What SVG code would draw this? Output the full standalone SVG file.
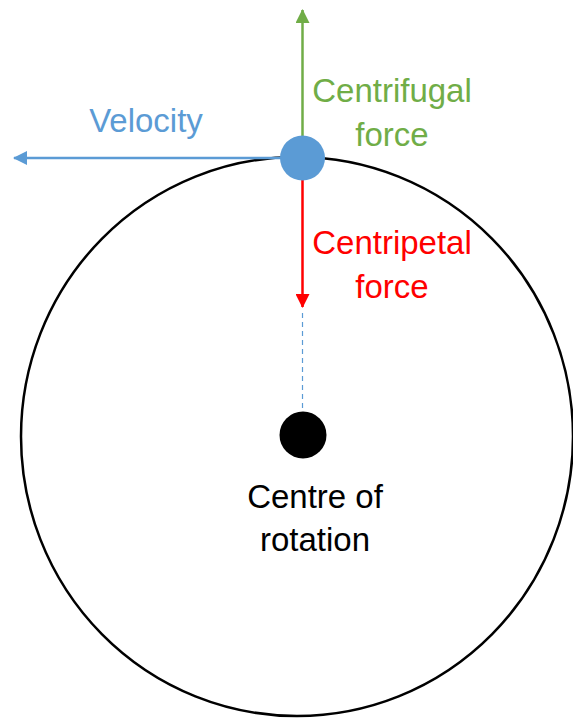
<svg xmlns="http://www.w3.org/2000/svg" width="573" height="718" viewBox="0 0 573 718">
<defs>
<style>
.lbl{font-family:"Liberation Sans",Arial,sans-serif;font-size:33px;text-anchor:middle}
</style>
<marker id="ab" viewBox="0 0 14 14" refX="13" refY="7" markerWidth="14" markerHeight="14" markerUnits="userSpaceOnUse" orient="auto"><path d="M0,0 L14,7 L0,14 Z" fill="#5B9BD5"/></marker>
<marker id="ag" viewBox="0 0 14 14" refX="13" refY="7" markerWidth="14" markerHeight="14" markerUnits="userSpaceOnUse" orient="auto"><path d="M0,0 L14,7 L0,14 Z" fill="#70AD47"/></marker>
<marker id="ar" viewBox="0 0 14 14" refX="13" refY="7" markerWidth="14" markerHeight="14" markerUnits="userSpaceOnUse" orient="auto"><path d="M0,0 L14,7 L0,14 Z" fill="#FF0000"/></marker>
</defs>
<rect width="573" height="718" fill="#fff"/>
<g id="orbit"><ellipse cx="297" cy="436.5" rx="276" ry="279.5" fill="none" stroke="#000" stroke-width="2.5"/></g>
<g id="connectors">
<line x1="302.5" y1="158" x2="14" y2="158" stroke="#5B9BD5" stroke-width="2.5" marker-end="url(#ab)"/>
<line x1="302.5" y1="158" x2="302.5" y2="10" stroke="#70AD47" stroke-width="2.5" marker-end="url(#ag)"/>
<line x1="302.5" y1="158" x2="302.5" y2="307" stroke="#FF0000" stroke-width="2.5" marker-end="url(#ar)"/>
<line x1="302.5" y1="313" x2="302.5" y2="413" stroke="#5B9BD5" stroke-width="1.2" stroke-dasharray="5,4"/>
</g>
<g id="mass"><circle cx="302.5" cy="158" r="22.5" fill="#5B9BD5"/></g>
<g id="centre"><circle cx="303" cy="435" r="23.5" fill="#000"/></g>
<g id="velocity-label"><text class="lbl" x="146" y="132" fill="#5B9BD5">Velocity</text></g>
<g id="centrifugal-label"><text class="lbl" x="392" y="102" fill="#70AD47">Centrifugal</text><text class="lbl" x="392" y="146" fill="#70AD47">force</text></g>
<g id="centripetal-label"><text class="lbl" x="392" y="254" fill="#FF0000">Centripetal</text><text class="lbl" x="392" y="298" fill="#FF0000">force</text></g>
<g id="centre-label"><text class="lbl" x="315" y="508" fill="#000">Centre of</text><text class="lbl" x="315" y="551" fill="#000">rotation</text></g>
</svg>
